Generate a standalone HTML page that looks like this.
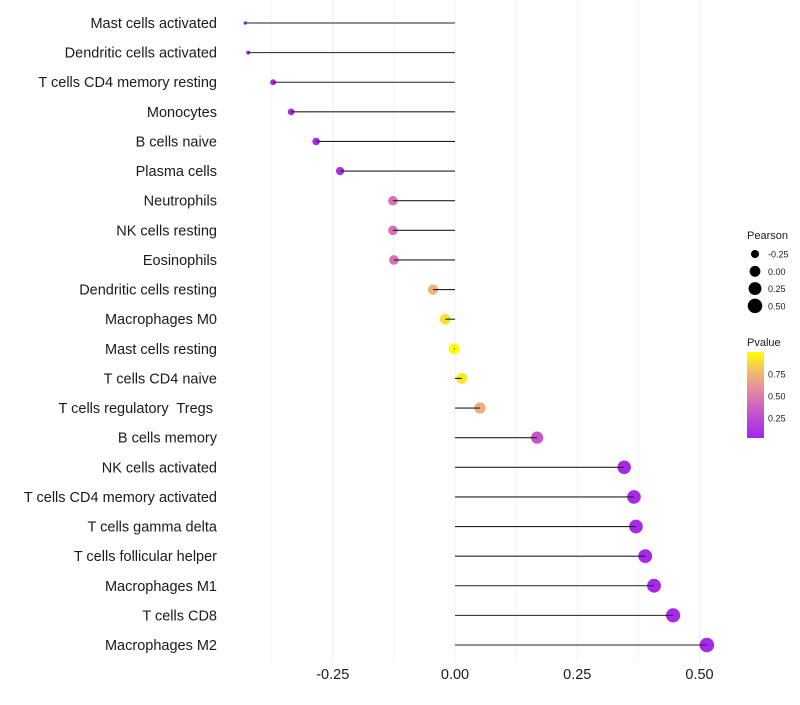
<!DOCTYPE html>
<html><head><meta charset="utf-8"><style>
body{margin:0;background:#fff;}
svg{font-family:"Liberation Sans",sans-serif;}
text{white-space:pre;}
</style></head><body>
<svg id="chart" width="800" height="700">
<g id="grid"></g>
<g id="marks"></g>
<g id="ylabels"></g>
<g id="xlabels"></g>
<g id="legend"></g>
</svg>
<script>
const categories=["Mast cells activated","Dendritic cells activated","T cells CD4 memory resting","Monocytes","B cells naive","Plasma cells","Neutrophils","NK cells resting","Eosinophils","Dendritic cells resting","Macrophages M0","Mast cells resting","T cells CD4 naive","T cells regulatory  Tregs ","B cells memory","NK cells activated","T cells CD4 memory activated","T cells gamma delta","T cells follicular helper","Macrophages M1","T cells CD8","Macrophages M2"];
const pearson=[-0.429,-0.423,-0.372,-0.335,-0.284,-0.235,-0.127,-0.127,-0.125,-0.045,-0.02,-0.002,0.014,0.051,0.168,0.346,0.366,0.37,0.389,0.407,0.446,0.515];
const pvalue=[0.05,0.05,0.05,0.05,0.05,0.07,0.45,0.45,0.45,0.75,0.9,1.0,0.92,0.72,0.3,0.05,0.05,0.05,0.05,0.05,0.05,0.05];
const xTicks=[-0.25,0,0.25,0.5];
const xTickLabels=["-0.25","0.00","0.25","0.50"];
const sizeLegend=[-0.25,0,0.25,0.5];
const sizeLegendLabels=["-0.25","0.00","0.25","0.50"];
const colorLegend=[0.25,0.5,0.75];
const colorLegendLabels=["0.25","0.50","0.75"];

const NS="http://www.w3.org/2000/svg";
const x=v=>455+v*489;
const y=i=>23+i*(622/21);
const r=v=>1.5+5.8*Math.sqrt(Math.max(0,(v+0.43))/0.945);
function lerp(a,b,t){return a.map((c,i)=>Math.round(c+(b[i]-c)*t));}
function col(p){const s=[[160,32,240],[216,112,184],[240,180,120],[255,255,0]];const st=[0,0.45,0.75,1];
 for(let k=0;k<3;k++){if(p<=st[k+1]){const c=lerp(s[k],s[k+1],(p-st[k])/(st[k+1]-st[k]));return `rgb(${c})`;}}return "rgb(255,255,0)";}
function mk(t,a,parent){const e=document.createElementNS(NS,t);for(const k in a)e.setAttribute(k,a[k]);document.getElementById(parent).appendChild(e);return e;}
for(let v=-0.375;v<=0.5;v+=0.125){
 const g=mk("line",{x1:x(v),x2:x(v),y1:0,y2:662,stroke:"#f0f0f0","stroke-width":Math.abs((v*4)%1)<1e-6?1:0.6},"grid");
 
 
}
categories.forEach((c,i)=>{
 const v=pearson[i];
 const d=mk("circle",{cx:x(v),cy:y(i),r:r(v),fill:col(pvalue[i])},"marks");
 
 
 const l=mk("line",{x1:x(v),x2:x(0),y1:y(i),y2:y(i),stroke:"#222","stroke-width":1.1},"marks");
 
 
 const t=mk("text",{x:217,y:y(i)+5,"text-anchor":"end","font-size":14.5,fill:"#1a1a1a"},"ylabels");
 t.textContent=c;
 
 
});
xTicks.forEach((v,i)=>{
 const t=mk("text",{x:x(v),y:679,"text-anchor":"middle","font-size":14.5,fill:"#1a1a1a"},"xlabels");
 t.textContent=xTickLabels[i];
 
 
});
const lt=mk("text",{x:747,y:239,"font-size":11,fill:"#1a1a1a"},"legend");
lt.textContent="Pearson";


sizeLegend.forEach((v,i)=>{
 const cy=254+i*17.3;
 const c=mk("circle",{cx:755,cy:cy,r:r(v),fill:"#000"},"legend");
 
 
 const t=mk("text",{x:768,y:cy+3.5,"font-size":9,fill:"#1a1a1a"},"legend");
 t.textContent=sizeLegendLabels[i];
 
 
});
const pt=mk("text",{x:747,y:346,"font-size":11,fill:"#1a1a1a"},"legend");
pt.textContent="Pvalue";


const defs=mk("defs",{},"legend");
const lg=document.createElementNS(NS,"linearGradient");lg.setAttribute("id","pg");lg.setAttribute("x1","0");lg.setAttribute("y1","1");lg.setAttribute("x2","0");lg.setAttribute("y2","0");defs.appendChild(lg);
for(let k=0;k<=10;k++){const s=document.createElementNS(NS,"stop");s.setAttribute("offset",k/10);s.setAttribute("stop-color",col(0.02+k/10*0.98));lg.appendChild(s);}
const cb=mk("rect",{x:747,y:352,width:17,height:86,fill:"url(#pg)"},"legend");


const cy0=438,cy1=352,pmin=0.02,pmax=1.0;
colorLegend.forEach((p,i)=>{
 const yy=cy0-(p-pmin)/(pmax-pmin)*(cy0-cy1);
 const t=mk("text",{x:768,y:yy+3.5,"font-size":9,fill:"#1a1a1a"},"legend");
 t.textContent=colorLegendLabels[i];
 
 
});
</script>
</body></html>
